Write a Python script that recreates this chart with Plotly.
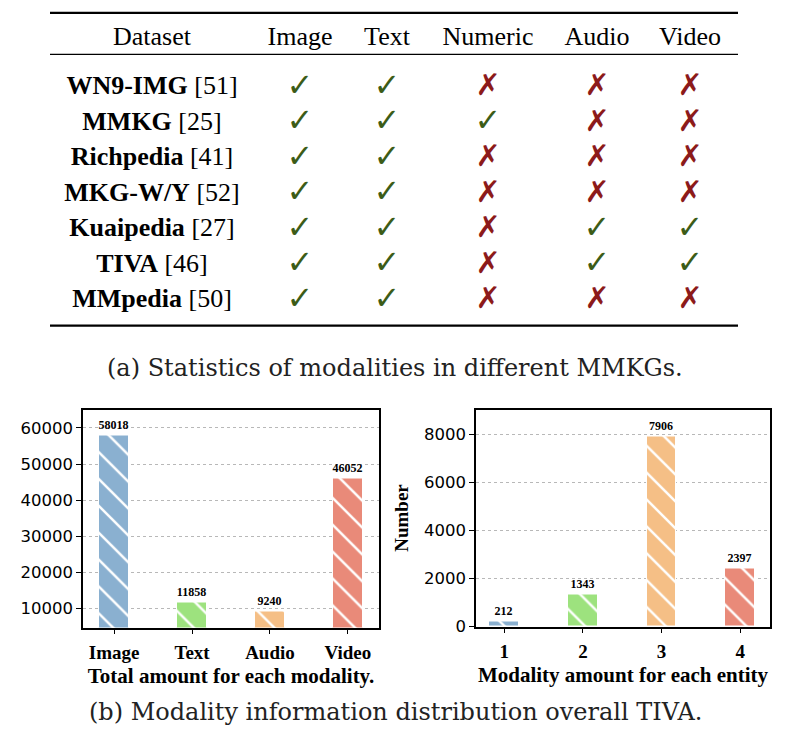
import plotly.graph_objects as go

W, H = 789, 740
OX, OY = 8, 8  # page body margin offset

# ---- table data ----
datasets = ["WN9-IMG", "MMKG", "Richpedia", "MKG-W/Y", "Kuaipedia", "TIVA", "MMpedia"]
refs = ["51", "25", "41", "52", "27", "46", "50"]
modalities = ["Image", "Text", "Numeric", "Audio", "Video"]
has_image = [1, 1, 1, 1, 1, 1, 1]
has_text = [1, 1, 1, 1, 1, 1, 1]
has_numeric = [0, 1, 0, 0, 0, 0, 0]
has_audio = [0, 0, 0, 0, 1, 1, 0]
has_video = [0, 0, 0, 0, 1, 1, 0]

# ---- bar chart data ----
modality_names = ["Image", "Text", "Audio", "Video"]
modality_totals = [58018, 11858, 9240, 46052]
modality_amounts = ["1", "2", "3", "4"]
entity_numbers = [212, 1343, 7906, 2397]

bar_colors = ["#8ab0d0", "#9de27e", "#f5bf86", "#e98a79"]

SERIF = "Liberation Serif"
CHECK_C = "#3c5c17"
CROSS_C = "#8c1a1a"


def dx(p0, p1):
    return [(p0 - OX) / W, (p1 - OX) / W]


def dy(top, bottom):
    return [1 - (bottom - OY) / H, 1 - (top - OY) / H]


# table layout (pixels, mapped 1:1 by the hidden table axes)
col_x = [152, 300, 387, 488, 597, 690]
header_y = 39
row_y0, row_step = 89, 36
row_y = [row_y0 + i * row_step for i in range(len(datasets))]

fig = go.Figure()

# header
fig.add_trace(go.Scatter(
    x=col_x, y=[header_y] * len(col_x), text=["Dataset"] + modalities,
    mode="text", textfont=dict(family=SERIF, size=26, color="black"),
    xaxis="x3", yaxis="y3", hoverinfo="skip", showlegend=False))

# dataset names
fig.add_trace(go.Scatter(
    x=[col_x[0]] * len(datasets), y=row_y,
    text=[f"<b>{d}</b> [{r}]" for d, r in zip(datasets, refs)],
    mode="text", textfont=dict(family=SERIF, size=26, color="black"),
    xaxis="x3", yaxis="y3", hoverinfo="skip", showlegend=False))

support = [has_image, has_text, has_numeric, has_audio, has_video]
cx, cy, xx, xy = [], [], [], []
for j, col in enumerate(support):
    for i, v in enumerate(col):
        if v:
            cx.append(col_x[j + 1]); cy.append(row_y[i])
        else:
            xx.append(col_x[j + 1]); xy.append(row_y[i])

fig.add_trace(go.Scatter(
    x=cx, y=cy, text=["✓"] * len(cx), mode="text",
    textfont=dict(family="DejaVu Sans", size=32, color=CHECK_C),
    xaxis="x3", yaxis="y3", hoverinfo="skip", showlegend=False))
fig.add_trace(go.Scatter(
    x=xx, y=xy, text=["✗"] * len(xx), mode="text",
    textfont=dict(family="DejaVu Sans", size=30, color=CROSS_C),
    xaxis="x3", yaxis="y3", hoverinfo="skip", showlegend=False))


# bar charts: one trace per bar so the hatch colours stay scalar
def add_bars(cats, vals, xa, ya):
    for c, v, col in zip(cats, vals, bar_colors):
        fig.add_trace(go.Bar(
            x=[c], y=[v], width=0.38,
            marker=dict(color=col, line=dict(color="white", width=1),
                        pattern=dict(shape="\\", fgcolor="white", bgcolor=col,
                                     fgopacity=1, size=19, solidity=0.13,
                                     fillmode="replace")),
            texttemplate="<b>%{y:d}</b>", textposition="outside", cliponaxis=False,
            textfont=dict(family=SERIF, size=12, color="black"),
            xaxis=xa, yaxis=ya, showlegend=False))


add_bars(modality_names, modality_totals, "x", "y")
add_bars(modality_amounts, entity_numbers, "x2", "y2")

common_x = dict(showline=True, mirror=True, linecolor="black", linewidth=1.5,
                ticks="outside", ticklen=5, tickcolor="black", showgrid=False,
                ticklabelstandoff=2,
                tickfont=dict(family=SERIF, size=19, color="black", weight="bold"),
                title_font=dict(family=SERIF, size=21, color="black", weight="bold"),
                title_standoff=6)
common_y = dict(showline=True, mirror=True, linecolor="black", linewidth=1.5,
                ticks="outside", ticklen=5, tickcolor="black", tickformat="d",
                showgrid=True, gridcolor="#b8b8b8", griddash="dot", gridwidth=1,
                zeroline=False, tickfont=dict(family="DejaVu Sans", size=16.5, color="black"))

fig.update_layout(
    width=W, height=H, margin=dict(l=0, r=0, t=0, b=0),
    paper_bgcolor="white", plot_bgcolor="rgba(0,0,0,0)", bargap=0, barmode="overlay",
    xaxis=dict(domain=dx(83, 379), range=[-0.4, 3.4], anchor="y",
               categoryorder="array", categoryarray=modality_names,
               title_text="Total amount for each modality.", **common_x),
    yaxis=dict(domain=dy(415, 636), range=[4800, 65100],
               tick0=0, dtick=10000, anchor="x", **common_y),
    xaxis2=dict(domain=dx(476, 770), range=[-0.36, 3.38], anchor="y2",
                categoryorder="array", categoryarray=modality_amounts,
                title_text="Modality amount for each entity", **common_x),
    yaxis2=dict(domain=dy(415, 635), range=[0, 9030],
                tick0=0, dtick=2000, anchor="x2",
                title_text="Number",
                title_font=dict(family=SERIF, size=19, color="black", weight="bold"),
                title_standoff=10, **common_y),
    xaxis3=dict(domain=[0, 1], range=[OX, W + OX], visible=False, anchor="y3"),
    yaxis3=dict(domain=[0, 1], range=[H + OY, OY], visible=False, anchor="x3"),
)

# table rules
for y, w in [(13, 2.2), (55, 1.3), (330, 2.2)]:
    fig.add_shape(type="line", xref="x3", yref="y3", x0=50, x1=738, y0=y, y1=y,
                  line=dict(color="black", width=w))

# captions
fig.add_annotation(text="(a) Statistics of modalities in different MMKGs.",
                   xref="x3", yref="y3", x=395, y=373, showarrow=False,
                   font=dict(family="DejaVu Serif", size=24, color="#222"))
fig.add_annotation(text="(b) Modality information distribution overall TIVA.",
                   xref="x3", yref="y3", x=395, y=722, showarrow=False,
                   font=dict(family="DejaVu Serif", size=24, color="#222"))

fig.write_html("out.html")
